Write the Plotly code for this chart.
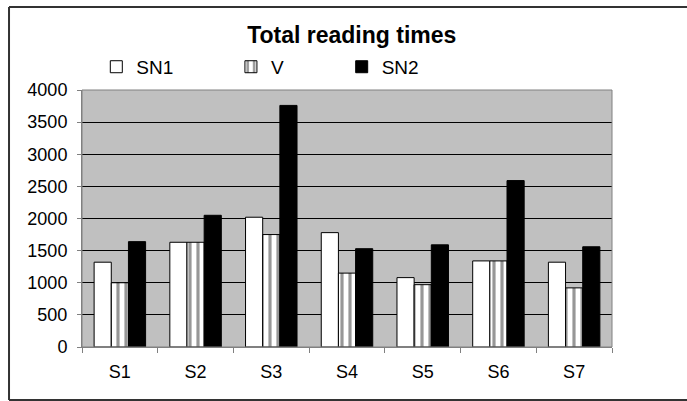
import plotly.graph_objects as go

categories = ["S1", "S2", "S3", "S4", "S5", "S6", "S7"]
sn1 = [1320, 1630, 2020, 1780, 1080, 1340, 1320]
v = [1000, 1630, 1750, 1150, 970, 1340, 920]
sn2 = [1640, 2050, 3760, 1530, 1590, 2590, 1560]
y_ticks = [0, 500, 1000, 1500, 2000, 2500, 3000, 3500, 4000]

FONT = "Liberation Sans, Arial, sans-serif"

fig = go.Figure()
fig.add_trace(go.Bar(name="SN1", x=categories, y=sn1, legend="legend",
                     marker=dict(color="white", line=dict(color="black", width=1))))
fig.add_trace(go.Bar(name="V", x=categories, y=v, legend="legend2",
                     marker=dict(color="white", line=dict(color="black", width=1),
                                 pattern=dict(shape="|", size=8, solidity=0.4,
                                              fgcolor="#303030", bgcolor="white"))))
fig.add_trace(go.Bar(name="SN2", x=categories, y=sn2, legend="legend3",
                     marker=dict(color="black", line=dict(color="black", width=1))))

leg_common = dict(orientation="h", xanchor="left", yanchor="middle", y=1.09,
                  bgcolor="rgba(0,0,0,0)", itemwidth=30,
                  font=dict(family=FONT, size=19, color="black"))

border = dict(color="#333333", width=2)

fig.update_layout(
    width=687, height=401,
    margin=dict(l=82, r=75, t=90, b=54, autoexpand=False),
    paper_bgcolor="white",
    plot_bgcolor="#C0C0C0",
    barmode="group",
    bargap=0.32,
    bargroupgap=0,
    showlegend=True,
    title=dict(text="<b>Total reading times</b>", x=0.512, xanchor="center",
               y=0.912, yanchor="middle",
               font=dict(family=FONT, size=23, color="black")),
    legend=dict(x=0.027, **leg_common),
    legend2=dict(x=0.281, **leg_common),
    legend3=dict(x=0.49, **leg_common),
    font=dict(family=FONT, size=18, color="black"),
    xaxis=dict(showgrid=False, showline=True, linecolor="#808080", linewidth=1,
               ticks="outside", tickson="boundaries", ticklen=5, tickcolor="#808080",
               ticklabelstandoff=8,
               mirror=False, tickfont=dict(family=FONT, size=18, color="black")),
    yaxis=dict(range=[0, 4000], tickvals=y_ticks, showgrid=True, gridcolor="black",
               gridwidth=1, showline=True, linecolor="#808080", linewidth=1,
               ticks="outside", ticklen=4, tickcolor="#808080", zeroline=False,
               ticklabelstandoff=6,
               tickfont=dict(family=FONT, size=18, color="black")),
    shapes=[
        dict(type="rect", xref="paper", yref="paper", x0=0, x1=1, y0=0, y1=1,
             line=dict(color="#808080", width=1), fillcolor="rgba(0,0,0,0)", layer="above"),
        dict(type="line", xref="paper", yref="paper", x0=-0.1377, x1=1.25, y0=1.323, y1=1.323,
             line=border, layer="below"),
        dict(type="line", xref="paper", yref="paper", x0=-0.1377, x1=-0.1377, y0=-0.206, y1=1.323,
             line=border, layer="below"),
        dict(type="line", xref="paper", yref="paper", x0=-0.1377, x1=1.25, y0=-0.206, y1=-0.206,
             line=border, layer="below"),
    ],
)

fig.write_html("out.html", config={"displayModeBar": False},
               post_script="document.body.style.margin='0';")
